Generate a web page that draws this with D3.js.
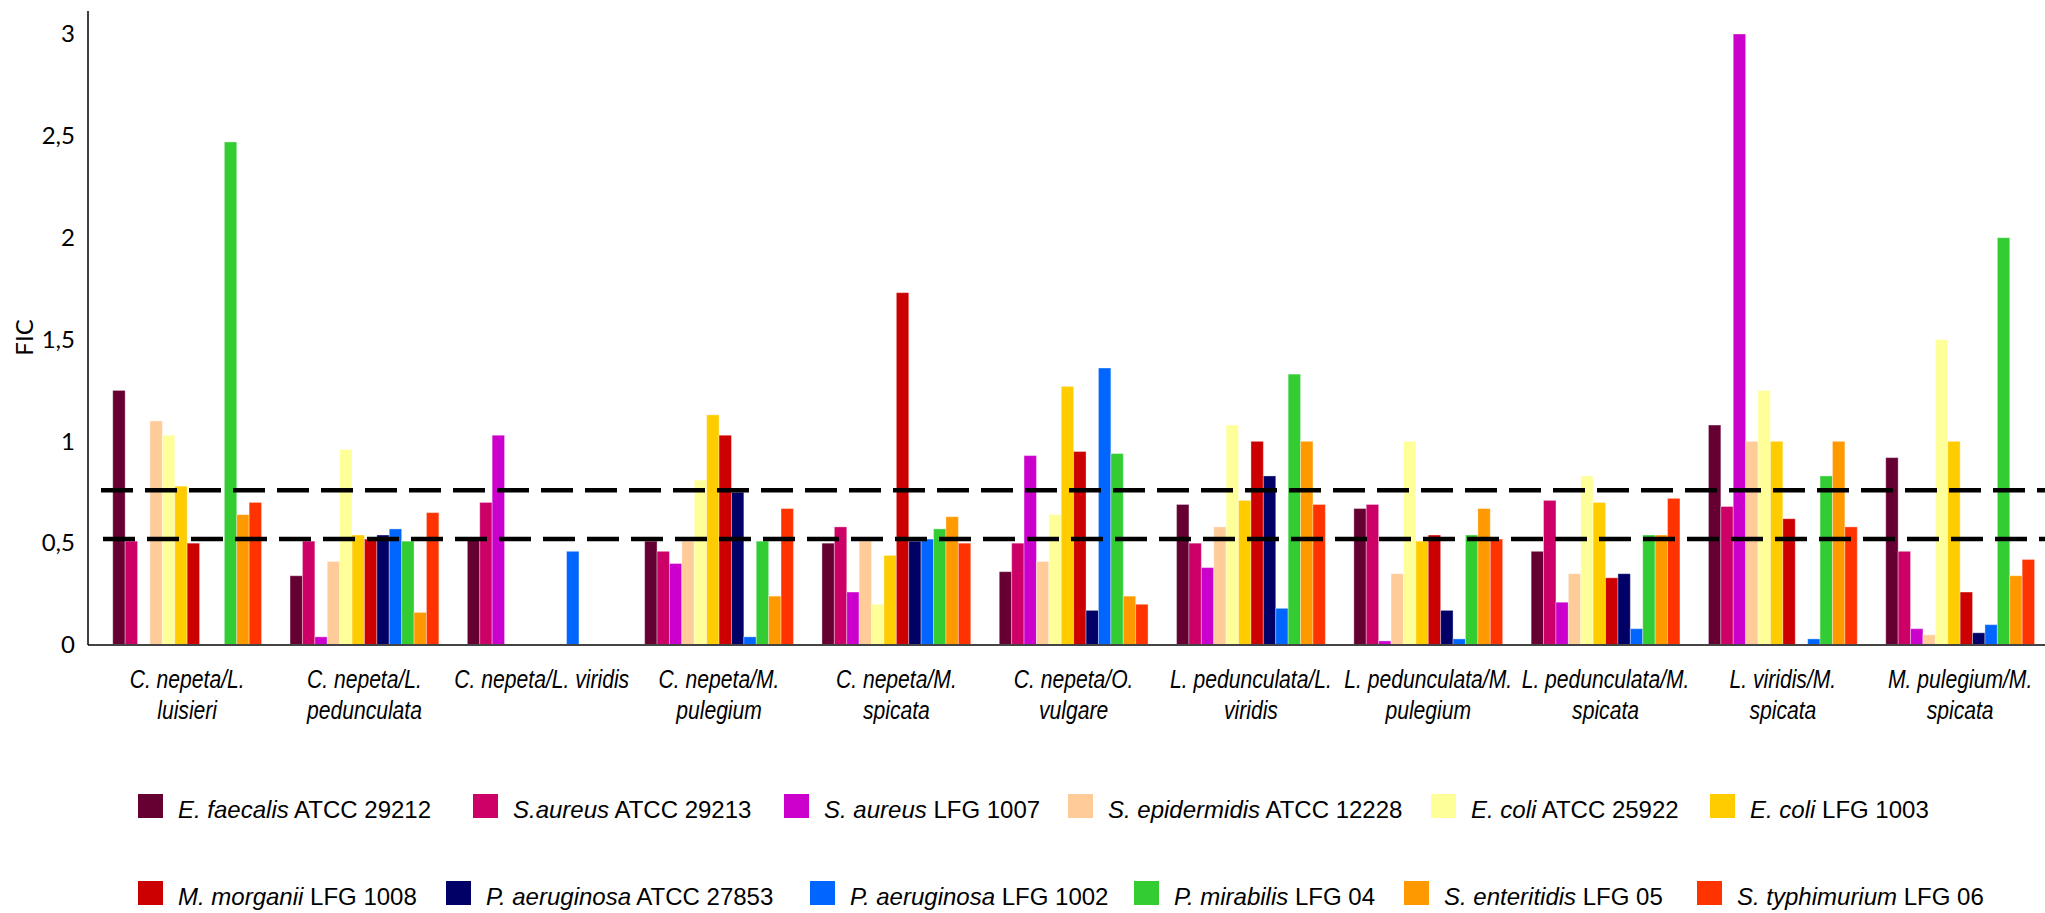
<!DOCTYPE html>
<html>
<head>
<meta charset="utf-8">
<script src="https://cdn.jsdelivr.net/npm/d3@7"></script>
<style>
  body { margin: 0; background: #fff; }
  svg { display: block; }
</style>
</head>
<body>
<svg id="chart"></svg>
<script>
// combinations of essential oils (x categories)
const combos = [
    ["C. nepeta/L.", "luisieri"],
    ["C. nepeta/L.", "pedunculata"],
    ["C. nepeta/L. viridis"],
    ["C. nepeta/M.", "pulegium"],
    ["C. nepeta/M.", "spicata"],
    ["C. nepeta/O.", "vulgare"],
    ["L. pedunculata/L.", "viridis"],
    ["L. pedunculata/M.", "pulegium"],
    ["L. pedunculata/M.", "spicata"],
    ["L. viridis/M.", "spicata"],
    ["M. pulegium/M.", "spicata"]
];

// strains: italic part, plain part, colour
const strainSpecies = ["E. faecalis", "S.aureus", "S. aureus", "S. epidermidis", "E. coli", "E. coli",
    "M. morganii", "P. aeruginosa", "P. aeruginosa", "P. mirabilis", "S. enteritidis", "S. typhimurium"];
const strainCodes = ["ATCC 29212", "ATCC 29213", "LFG 1007", "ATCC 12228", "ATCC 25922", "LFG 1003",
    "LFG 1008", "ATCC 27853", "LFG 1002", "LFG 04", "LFG 05", "LFG 06"];
const strainColors = ["#660033", "#cc0066", "#cc00cc", "#ffcc99", "#ffff99", "#ffcc00",
    "#cc0000", "#000066", "#0066ff", "#33cc33", "#ff9900", "#ff3300"];

// FIC values per strain, one value per combination (null = not tested)
const efaecalis29212  = [1.25, 0.34, 0.52, 0.51, 0.50, 0.36, 0.69, 0.67, 0.46, 1.08, 0.92];
const saureus29213    = [0.51, 0.51, 0.70, 0.46, 0.58, 0.50, 0.50, 0.69, 0.71, 0.68, 0.46];
const saureus1007     = [null, 0.04, 1.03, 0.40, 0.26, 0.93, 0.38, 0.02, 0.21, 3.00, 0.08];
const sepidermidis    = [1.10, 0.41, null, 0.51, 0.51, 0.41, 0.58, 0.35, 0.35, 1.00, 0.05];
const ecoli25922      = [1.03, 0.96, null, 0.81, 0.20, 0.64, 1.08, 1.00, 0.83, 1.25, 1.50];
const ecoli1003       = [0.78, 0.54, null, 1.13, 0.44, 1.27, 0.71, 0.51, 0.70, 1.00, 1.00];
const mmorganii1008   = [0.50, 0.52, null, 1.03, 1.73, 0.95, 1.00, 0.54, 0.33, 0.62, 0.26];
const paeruginosa27853 = [null, 0.54, null, 0.75, 0.51, 0.17, 0.83, 0.17, 0.35, null, 0.06];
const paeruginosa1002 = [null, 0.57, 0.46, 0.04, 0.52, 1.36, 0.18, 0.03, 0.08, 0.03, 0.10];
const pmirabilis04    = [2.47, 0.51, null, 0.51, 0.57, 0.94, 1.33, 0.54, 0.54, 0.83, 2.00];
const senteritidis05  = [0.64, 0.16, null, 0.24, 0.63, 0.24, 1.00, 0.67, 0.54, 1.00, 0.34];
const styphimurium06  = [0.70, 0.65, null, 0.67, 0.50, 0.20, 0.69, 0.52, 0.72, 0.58, 0.42];

const series = [efaecalis29212, saureus29213, saureus1007, sepidermidis, ecoli25922, ecoli1003,
    mmorganii1008, paeruginosa27853, paeruginosa1002, pmirabilis04, senteritidis05, styphimurium06];

const yTicks = [0, 0.5, 1, 1.5, 2, 2.5, 3];
const thresholds = [0.52, 0.76];

let width = 2045
let height = 913

// legend layout: swatch left edges, two rows of six
const legendX = [[138, 473, 784, 1068, 1431, 1710], [138, 446, 810, 1134, 1404, 1697]];
const legendBase = [818, 905];

const svg = d3.select("#chart")
    .attr("width", width)
    .attr("height", height)
    .attr("viewBox", [0, 0, width, height]);

const y = d3.scaleLinear().domain([0, 3]).range([645, 34]);
const x0 = d3.scaleBand().domain(d3.range(combos.length)).range([98.5, 98.5 + 11 * 177.3]);
const x1 = d3.scaleBand().domain(d3.range(series.length)).range([0, x0.bandwidth()]).paddingOuter(1.149);

// bars
const bars = [];
series.forEach((vals, s) => vals.forEach((v, c) => {
    if (v != null) bars.push({s, c, v});
}));

svg.append("g")
    .selectAll("rect")
    .data(bars)
    .join("rect")
    .attr("x", d => x0(d.c) + x1(d.s))
    .attr("y", d => y(d.v))
    .attr("width", x1.bandwidth())
    .attr("height", d => y(0) - y(d.v))
    .attr("fill", d => strainColors[d.s])
    .attr("stroke", "#fff")
    .attr("stroke-opacity", 0.35)
    .attr("stroke-width", 1);

// axes
svg.append("line")
    .attr("x1", 88).attr("x2", width)
    .attr("y1", y(0)).attr("y2", y(0))
    .attr("stroke", "#444").attr("stroke-width", 2);

svg.append("line")
    .attr("x1", 88).attr("x2", 88)
    .attr("y1", 11).attr("y2", y(0))
    .attr("stroke", "#000").attr("stroke-width", 1.5);

const yAxis = svg.append("g")
    .attr("transform", "translate(88,0)")
    .call(d3.axisLeft(y).tickValues(yTicks).tickSize(0).tickPadding(13)
        .tickFormat(d => String(d).replace(".", ",")));
yAxis.select(".domain").remove();
yAxis.selectAll("text")
    .attr("font-family", "Lato, 'Open Sans', sans-serif")
    .attr("font-size", 24)
    .attr("fill", "#000");

svg.append("text")
    .attr("transform", `translate(33,${y(1.5) - 2}) rotate(-90)`)
    .attr("text-anchor", "middle")
    .attr("font-family", "Lato, 'Open Sans', sans-serif")
    .attr("font-size", 24)
    .text("FIC");

// dashed threshold lines
svg.append("g")
    .selectAll("line")
    .data(thresholds)
    .join("line")
    .attr("x1", (d, i) => i === 0 ? 103 : 101)
    .attr("x2", width)
    .attr("y1", d => y(d))
    .attr("y2", d => y(d))
    .attr("stroke", "#000")
    .attr("stroke-width", 4.5)
    .attr("stroke-dasharray", "32,12");

// category labels
const labels = svg.append("g")
    .selectAll("g")
    .data(combos)
    .join("g")
    .attr("transform", (d, i) => `translate(${x0(i) + x0.bandwidth() / 2},0) scale(0.845,1)`);

labels.append("text")
    .attr("text-anchor", "middle")
    .attr("font-family", "'Liberation Sans', Arial, sans-serif")
    .attr("font-style", "italic")
    .attr("font-size", 25)
    .selectAll("tspan")
    .data(d => d)
    .join("tspan")
    .attr("x", 0)
    .attr("y", (d, i) => 688 + i * 31)
    .text(d => d);

// legend
const legend = svg.append("g")
    .attr("font-family", "'Liberation Sans', Arial, sans-serif")
    .attr("font-size", 24);

legendX.forEach((xs, row) => {
    xs.forEach((xpos, k) => {
        const s = row * 6 + k;
        legend.append("rect")
            .attr("x", xpos)
            .attr("y", legendBase[row] - 24)
            .attr("width", 25)
            .attr("height", 24)
            .attr("fill", strainColors[s]);
        const t = legend.append("text")
            .attr("x", xpos + 40)
            .attr("y", legendBase[row]);
        t.append("tspan").attr("font-style", "italic").text(strainSpecies[s]);
        t.append("tspan").text(" " + strainCodes[s]);
    });
});
</script>
</body>
</html>
